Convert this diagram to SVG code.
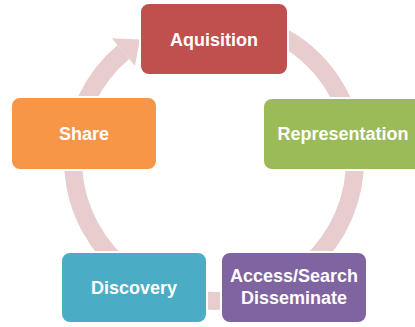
<svg xmlns="http://www.w3.org/2000/svg" width="415" height="327" viewBox="0 0 415 327">
<style>
.node{stroke:#ffffff;stroke-width:2}
.lbl{font-family:"Liberation Sans",Arial,sans-serif;font-weight:bold;font-size:18px;fill:#ffffff;text-anchor:middle}
.ring{fill:none;stroke:#E7CDCE;stroke-width:18}
</style>
<rect width="415" height="327" fill="#ffffff"/>
<g id="connectors">
<path class="ring" d="M 238.5 21.1 A 141 141 0 1 1 123.4 52"/>
<polygon points="111.8,38.2 140,39.5 134.9,65.8" fill="#E7CDCE"/>
</g>
<g id="node-aquisition">
<rect class="node" x="140" y="3" width="148" height="72" rx="9" fill="#C0504D"/>
<text class="lbl" x="214" y="45.5">Aquisition</text>
</g>
<g id="node-representation">
<rect class="node" x="263" y="98" width="160" height="72" rx="9" fill="#9BBB59"/>
<text class="lbl" x="343" y="140">Representation</text>
</g>
<g id="node-access">
<rect class="node" x="221" y="252" width="146" height="71" rx="9" fill="#8064A2"/>
<text class="lbl" x="294" y="282">Access/Search</text>
<text class="lbl" x="294" y="304">Disseminate</text>
</g>
<g id="node-discovery">
<rect class="node" x="61" y="252" width="146" height="71" rx="9" fill="#4BACC6"/>
<text class="lbl" x="134" y="293.5">Discovery</text>
</g>
<g id="node-share">
<rect class="node" x="11" y="97" width="146" height="73" rx="9" fill="#F79646"/>
<text class="lbl" x="84" y="140">Share</text>
</g>
</svg>
